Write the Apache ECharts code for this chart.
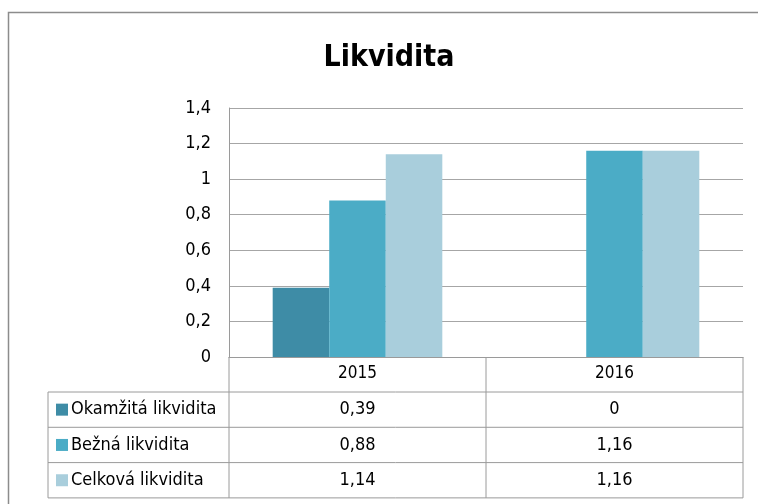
<!DOCTYPE html>
<html>
<head>
<meta charset="utf-8">
<script src="https://cdn.jsdelivr.net/npm/echarts@6/dist/echarts.min.js"></script>
<style>html,body{margin:0;padding:0;background:#fff}#c{width:758px;height:504px}</style>
</head>
<body>
<div id="c"></div>
<script>
const categories = ['2015', '2016'];
const seriesNames = ['Okamžitá likvidita', 'Bežná likvidita', 'Celková likvidita'];
const okamzita = [0.39, 0];
const bezna = [0.88, 1.16];
const celkova = [1.14, 1.16];
const seriesColors = ['#3E8CA6', '#4BACC6', '#A9CEDC'];
const FONT = '"Liberation Sans Narrow", "DejaVu Sans Condensed", sans-serif';
const seriesData = [okamzita, bezna, celkova];
const fmt = v => String(v).replace('.', ',');

const chart = echarts.init(document.getElementById('c'), null, {renderer: 'canvas'});
const option = {
  animation: false,
  backgroundColor: '#fff',
  title: {
    text: 'Likvidita', left: 384, top: 38, textAlign: 'center',
    textStyle: {fontFamily: FONT, fontWeight: 'bold', fontSize: 30, color: '#000'}
  },
  grid: {left: 229, right: 15, top: 108, bottom: 147},
  xAxis: {
    type: 'category', data: categories,
    axisLine: {show: true, lineStyle: {color: '#9a9a9a', width: 1}},
    axisTick: {show: false},
    axisLabel: {fontFamily: FONT, fontSize: 17, color: '#000', margin: 8}
  },
  yAxis: {
    type: 'value', min: 0, max: 1.4, interval: 0.2,
    axisLine: {show: true, lineStyle: {color: '#9a9a9a', width: 1}},
    axisTick: {show: false},
    splitLine: {lineStyle: {color: '#a6a6a6', width: 1}},
    axisLabel: {fontFamily: FONT, fontSize: 18, color: '#000', margin: 18, formatter: v => fmt(+v.toFixed(1))}
  },
  series: seriesNames.map((n, i) => ({
    name: n, type: 'bar', data: seriesData[i],
    barGap: '0%', barCategoryGap: '34%',
    itemStyle: {color: seriesColors[i]}
  }))
};
chart.setOption(option);

// data table under the chart
const x0 = 48;
const xc1 = chart.convertToPixel({xAxisIndex: 0}, categories[0]);
const xc2 = chart.convertToPixel({xAxisIndex: 0}, categories[1]);
const half = (xc2 - xc1) / 2;
const colL = xc1 - half, colM = xc1 + half, colR = xc2 + half;
const yAxis0 = chart.convertToPixel({yAxisIndex: 0}, 0);
const rowH = 35.3;
const rows = [yAxis0 + 35, yAxis0 + 35 + rowH, yAxis0 + 35 + 2 * rowH, yAxis0 + 35 + 3 * rowH];
const lc = '#9a9a9a';
const g = [];
const line = (x1, y1, x2, y2) => g.push({type: 'line', shape: {x1, y1, x2, y2}, style: {stroke: lc, lineWidth: 1}, silent: true});
// outer frame
g.push({type: 'rect', shape: {x: 8.5, y: 12.5, width: 760, height: 500}, style: {fill: null, stroke: '#8c8c8c', lineWidth: 1.5}, silent: true});
line(colL, yAxis0, colL, rows[3]);
line(colM, yAxis0, colM, rows[3]);
line(colR, yAxis0, colR, rows[3]);
line(x0, rows[0], x0, rows[3]);
rows.forEach(y => line(x0, y, colR, y));
seriesNames.forEach((n, i) => {
  const yc = (rows[i] + rows[i + 1]) / 2;
  g.push({type: 'rect', shape: {x: x0 + 8, y: yc - 6, width: 12, height: 12}, style: {fill: seriesColors[i]}, silent: true});
  g.push({type: 'text', x: x0 + 23, y: yc, style: {text: n, fontFamily: FONT, fontSize: 18, fill: '#000', verticalAlign: 'middle', align: 'left'}, silent: true});
  seriesData[i].forEach((v, j) => {
    g.push({type: 'text', x: j === 0 ? xc1 : xc2, y: yc, style: {text: fmt(v), fontFamily: FONT, fontSize: 18, fill: '#000', verticalAlign: 'middle', align: 'center'}, silent: true});
  });
});
chart.setOption({graphic: g});
</script>
</body>
</html>
